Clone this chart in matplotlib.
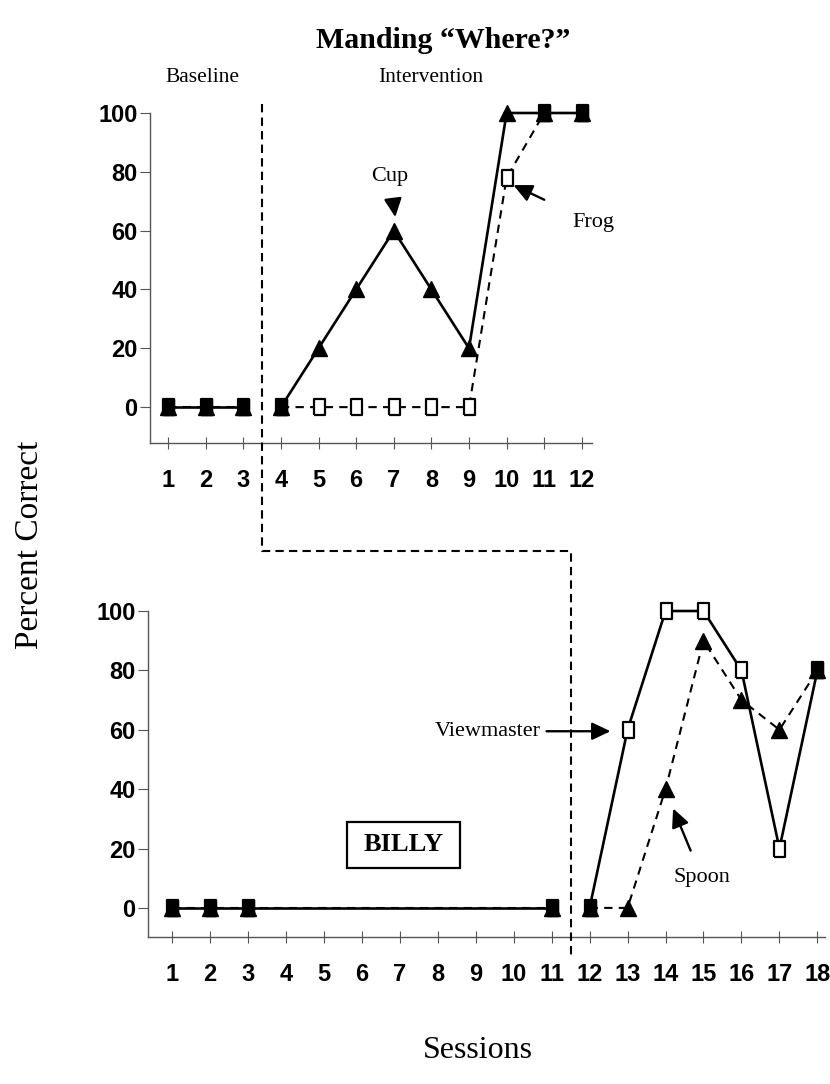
import matplotlib
matplotlib.use("Agg")
import matplotlib.pyplot as plt
from matplotlib.lines import Line2D
from matplotlib.patches import Rectangle

# ---------------- data ----------------
top_sessions_base = [1, 2, 3]
top_sessions_int = [4, 5, 6, 7, 8, 9, 10, 11, 12]
cup_base = [0, 0, 0]
cup_int = [0, 20, 40, 60, 40, 20, 100, 100, 100]
frog_base = [0, 0, 0]
frog_int = [0, 0, 0, 0, 0, 0, 78, 100, 100]

bot_sessions_base = [1, 2, 3, 11]
bot_sessions_int = [12, 13, 14, 15, 16, 17, 18]
view_base = [0, 0, 0, 0]
view_int = [0, 60, 100, 100, 80, 20, 80]
spoon_base = [0, 0, 0, 0]
spoon_int = [0, 0, 40, 90, 70, 60, 80]

y_ticks = [0, 20, 40, 60, 80, 100]
top_xticks = list(range(1, 13))
bot_xticks = list(range(1, 19))

SERIF = "Liberation Serif"
SANS = "Liberation Sans"
plt.rcParams["font.family"] = [SANS, "DejaVu Sans"]

fig = plt.figure(figsize=(8.30, 10.84), dpi=100)
W, H = 830, 1084

def fx(px):
    return px / W

def fy(py):
    return 1 - py / H

ax1 = fig.add_axes([fx(150), fy(443), fx(592) - fx(150), fy(113) - fy(443)])
ax2 = fig.add_axes([fx(148), fy(937), fx(825) - fx(148), fy(611) - fy(937)])

for ax in (ax1, ax2):
    for s in ("top", "right"):
        ax.spines[s].set_visible(False)
    for s in ("left", "bottom"):
        ax.spines[s].set_color("#555555")
        ax.spines[s].set_linewidth(1.0)
    ax.set_yticks(y_ticks)
    ax.tick_params(axis="y", direction="out", length=7, width=0.8, color="#555555",
                   pad=2, labelsize=17)
    ax.tick_params(axis="x", direction="inout", length=9, width=0.8, color="#555555",
                   pad=14, labelsize=17)

# tall open rectangle marker
RECT = [(-0.72, -1), (0.72, -1), (0.72, 1), (-0.72, 1), (-0.72, -1)]
sq_kw = dict(marker=RECT, markersize=11, markerfacecolor="white",
             markeredgecolor="black", markeredgewidth=1.6, color="black", clip_on=False)
tri_kw = dict(marker="^", markersize=11, markerfacecolor="black",
              markeredgecolor="black", color="black", clip_on=False)
fill_kw = dict(marker=RECT, markersize=11, markerfacecolor="black",
               markeredgecolor="black", linestyle="none", clip_on=False)

def overlap(xs, a, b):
    pts = [(x, u) for x, u, v in zip(xs, a, b) if u == v]
    return [p[0] for p in pts], [p[1] for p in pts]

# ---------------- top panel ----------------
ax1.set_xlim(0.52, 12.27)
ax1.set_ylim(-12.2, 100)
ax1.set_xticks(top_xticks)
ax1.set_xticklabels([str(t) for t in top_xticks])
for xs, fr, cu in ((top_sessions_base, frog_base, cup_base),
                   (top_sessions_int, frog_int, cup_int)):
    ax1.plot(xs, fr, linestyle=(0, (4, 3)), linewidth=1.5, zorder=3, **sq_kw)
    ax1.plot(xs, cu, linestyle="-", linewidth=1.9, zorder=4, **tri_kw)
    ox, oy = overlap(xs, fr, cu)
    ax1.plot(ox, oy, zorder=5, **fill_kw)

for ax in (ax1, ax2):
    for lab in ax.get_xticklabels() + ax.get_yticklabels():
        lab.set_fontweight("bold")

arrow_kw = dict(arrowstyle="-|>,head_length=0.8,head_width=0.38", color="black", lw=1.7,
                mutation_scale=14)
ax1.annotate("Cup", xy=(7.04, 64.6), xytext=(6.9, 78.5), fontsize=16, fontfamily=SERIF,
             ha="center", va="center",
             arrowprops=dict(shrinkA=8, shrinkB=0, **arrow_kw))
ax1.annotate("Frog", xy=(10.18, 75.5), xytext=(12.3, 62.6), fontsize=16, fontfamily=SERIF,
             ha="center", va="center", annotation_clip=False,
             arrowprops=dict(shrinkA=20, shrinkB=0, **arrow_kw))

# ---------------- bottom panel ----------------
ax2.set_xlim(0.37, 18.2)
ax2.set_ylim(-9.8, 100)
ax2.set_xticks(bot_xticks)
ax2.set_xticklabels([str(t) for t in bot_xticks])
for lab in ax2.get_xticklabels() + ax2.get_yticklabels():
    lab.set_fontweight("bold")
for xs, vw, sp in ((bot_sessions_base, view_base, spoon_base),
                   (bot_sessions_int, view_int, spoon_int)):
    ax2.plot(xs, sp, linestyle=(0, (4, 3)), linewidth=1.5, zorder=3, **tri_kw)
    ax2.plot(xs, vw, linestyle="-", linewidth=1.9, zorder=4, **sq_kw)
    ox, oy = overlap(xs, vw, sp)
    ax2.plot(ox, oy, zorder=5, **fill_kw)

ax2.annotate("Viewmaster", xy=(12.55, 59.5), xytext=(10.72, 59.5), fontsize=16,
             fontfamily=SERIF, ha="right", va="center",
             arrowprops=dict(shrinkA=2, shrinkB=0, **arrow_kw))
ax2.annotate("Spoon", xy=(14.2, 33.5), xytext=(14.95, 10.4), fontsize=16,
             fontfamily=SERIF, ha="center", va="center",
             arrowprops=dict(shrinkA=11, shrinkB=0, **arrow_kw))
ax2.add_patch(Rectangle((5.6, 13.5), 3.0, 15.5, facecolor="white", edgecolor="black",
                        lw=1.6, zorder=2))
ax2.text(7.1, 21.2, "BILLY", fontsize=19, fontweight="bold", fontfamily=SERIF,
         ha="center", va="center", zorder=3)

# ---------------- phase-change line ----------------
fig.canvas.draw()
inv = fig.transFigure.inverted()
p_top = inv.transform(ax1.transData.transform((3.5, 103)))
p_b1x = inv.transform(ax1.transData.transform((3.5, 0)))[0]
p_b2x = inv.transform(ax2.transData.transform((11.5, 0)))[0]
p_bot = inv.transform(ax2.transData.transform((11.5, -16)))
ybend = fy(551)
fig.add_artist(Line2D([p_top[0], p_b1x, p_b2x, p_bot[0]],
                      [p_top[1], ybend, ybend, p_bot[1]],
                      transform=fig.transFigure, color="black", lw=1.5,
                      linestyle=(0, (4, 2.5))))

# ---------------- texts ----------------
fig.text(fx(443), fy(41), "Manding \u201cWhere?\u201d", fontsize=21.5, fontweight="bold",
         fontfamily=SERIF, ha="center", va="center")
fig.text(fx(202), fy(77), "Baseline", fontsize=15.5, fontfamily=SERIF, ha="center", va="center")
fig.text(fx(431), fy(77), "Intervention", fontsize=15.5, fontfamily=SERIF, ha="center", va="center")
fig.text(fx(30), fy(545), "Percent Correct", fontsize=24, fontfamily=SERIF, rotation=90,
         ha="center", va="center")
fig.text(fx(478), fy(1050), "Sessions", fontsize=23, fontfamily=SERIF, ha="center", va="center")

fig.savefig("out.png", dpi=100, facecolor="white")
